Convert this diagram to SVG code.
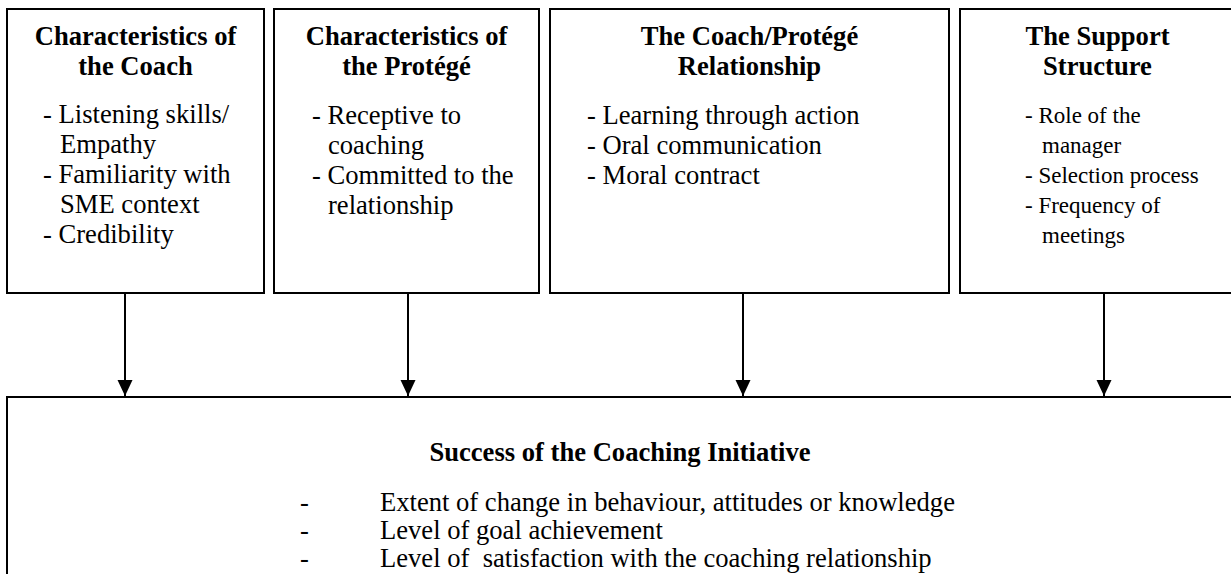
<svg xmlns="http://www.w3.org/2000/svg" width="1231" height="574" viewBox="0 0 1231 574">
<style>
.box{fill:#fff;stroke:#000;stroke-width:2}
text{font-size:26.6px;fill:#000}
.b{font-weight:bold;text-anchor:middle}
.s{font-size:23px}
.c{stroke:#000;stroke-width:2;fill:none}
</style>
<defs>
<marker id="ah" markerWidth="16" markerHeight="16" refX="16" refY="7.5" orient="auto" markerUnits="userSpaceOnUse">
<path d="M0,0 L16,7.5 L0,15 Z" fill="#000"/>
</marker>
</defs>
<g font-family="Liberation Serif, Times New Roman, Times, serif">
<g id="coach">
<rect class="box" x="7" y="9" width="257" height="284"/>
<text class="b" x="135.5" y="45">Characteristics of</text>
<text class="b" x="135.5" y="75">the Coach</text>
<text x="43" y="123">- Listening skills/</text>
<text x="60" y="153">Empathy</text>
<text x="43" y="183">- Familiarity with</text>
<text x="60" y="213">SME context</text>
<text x="43" y="243">- Credibility</text>
</g>
<g id="protege">
<rect class="box" x="274" y="9" width="265" height="284"/>
<text class="b" x="406.5" y="45">Characteristics of</text>
<text class="b" x="406.5" y="75">the Protégé</text>
<text x="312" y="124">- Receptive to</text>
<text x="328" y="154">coaching</text>
<text x="312" y="184">- Committed to the</text>
<text x="328" y="214">relationship</text>
</g>
<g id="relationship">
<rect class="box" x="550" y="9" width="399" height="284"/>
<text class="b" x="749.5" y="45">The Coach/Protégé</text>
<text class="b" x="749.5" y="75">Relationship</text>
<text x="587" y="124">- Learning through action</text>
<text x="587" y="154">- Oral communication</text>
<text x="587" y="184">- Moral contract</text>
</g>
<g id="support">
<rect class="box" x="960" y="9" width="280" height="284"/>
<text class="b" x="1097.5" y="45">The Support</text>
<text class="b" x="1097.5" y="75">Structure</text>
<text class="s" x="1025" y="123">- Role of the</text>
<text class="s" x="1042" y="153">manager</text>
<text class="s" x="1025" y="183">- Selection process</text>
<text class="s" x="1025" y="213">- Frequency of</text>
<text class="s" x="1042" y="243">meetings</text>
</g>
<g id="success">
<rect class="box" x="7" y="397" width="1228" height="200"/>
<text class="b" x="620" y="461">Success of the Coaching Initiative</text>
<text x="300" y="511">-</text>
<text x="380" y="511">Extent of change in behaviour, attitudes or knowledge</text>
<text x="300" y="539">-</text>
<text x="380" y="539">Level of goal achievement</text>
<text x="300" y="567">-</text>
<text x="380" y="567" xml:space="preserve">Level of  satisfaction with the coaching relationship</text>
</g>
</g>
<g id="connectors">
<line class="c" x1="125" y1="294" x2="125" y2="396" marker-end="url(#ah)"/>
<line class="c" x1="408" y1="294" x2="408" y2="396" marker-end="url(#ah)"/>
<line class="c" x1="743" y1="294" x2="743" y2="396" marker-end="url(#ah)"/>
<line class="c" x1="1104" y1="294" x2="1104" y2="396" marker-end="url(#ah)"/>
</g>
</svg>
